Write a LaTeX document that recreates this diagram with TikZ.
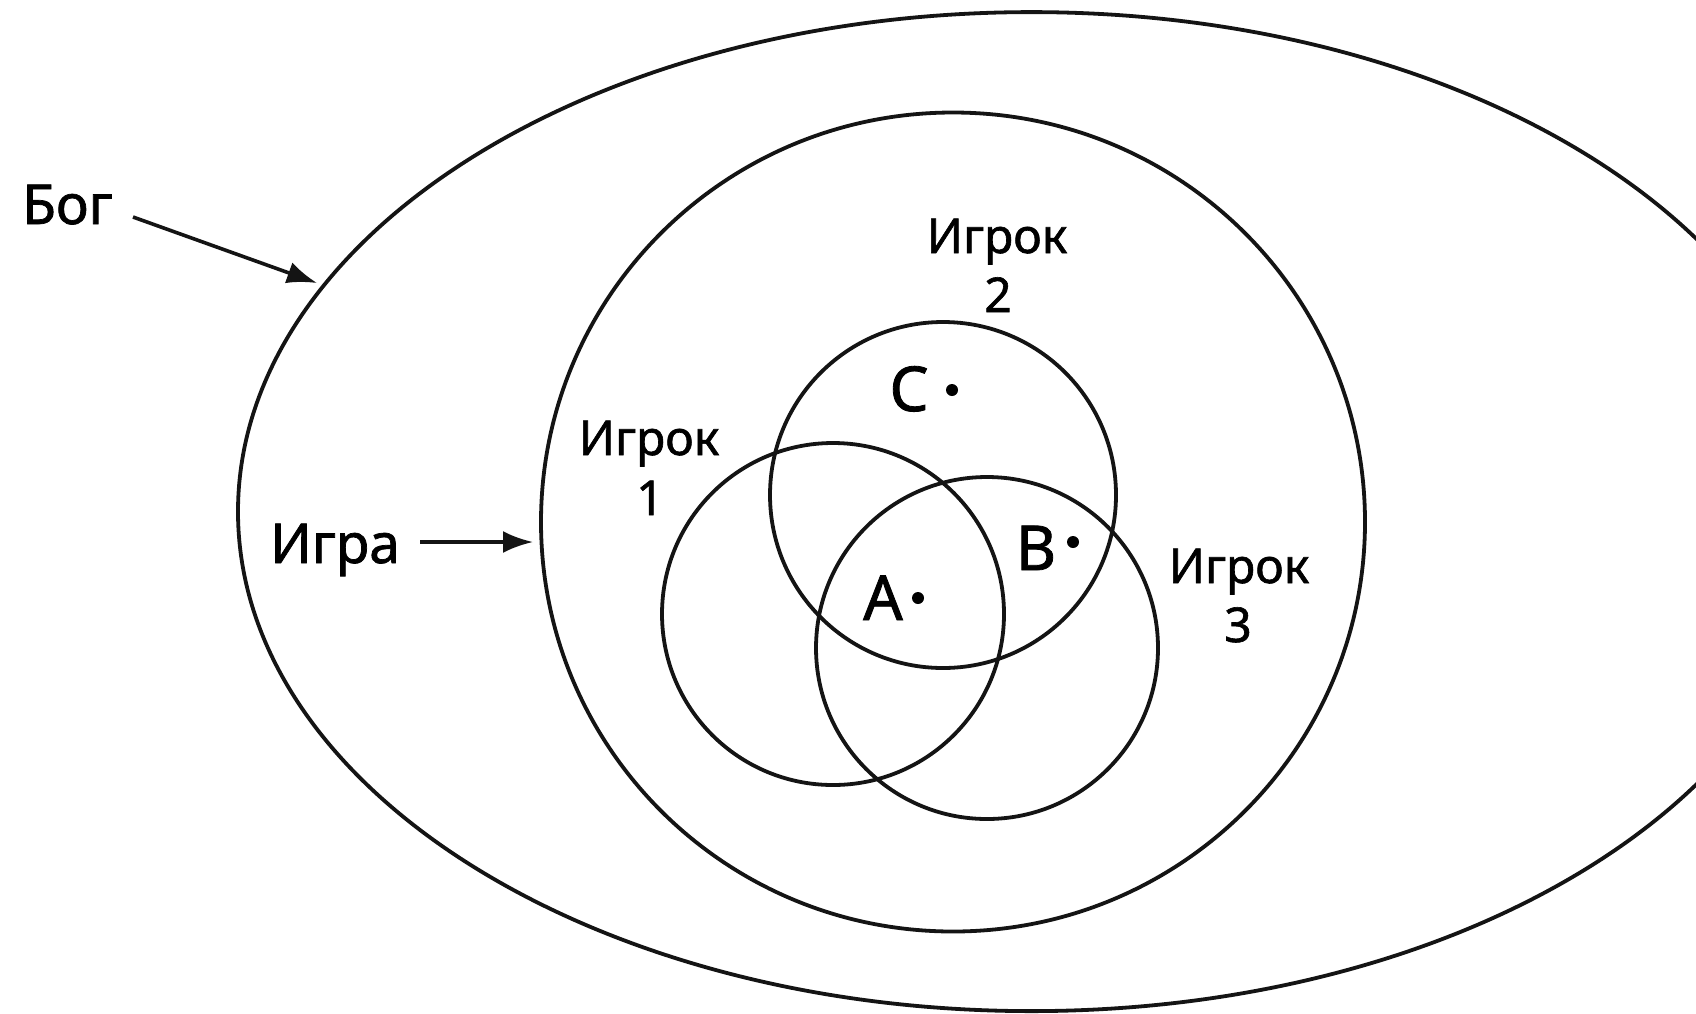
\documentclass[tikz,border=0pt]{standalone}
\usepackage{fontspec}
\setmainfont{Noto Sans}
\newfontfamily\labfont{Noto Sans}[FakeBold=1.3]
\usetikzlibrary{shapes.geometric,arrows.meta}
\begin{document}
\begin{tikzpicture}[x=1pt,y=-1pt,
  ring/.style={draw=black!92, line width=3.8pt, ellipse, inner sep=0pt},
  lab/.style={inner sep=0pt, anchor=base, font=\labfont\fontsize{48}{56}\selectfont},
  big/.style={inner sep=0pt, anchor=base west, font=\labfont\fontsize{55}{62}\selectfont},
  ptlab/.style={inner sep=0pt, anchor=base, font=\labfont\fontsize{62}{70}\selectfont},
  dotmark/.style={circle, fill=black, inner sep=0pt, minimum size=12pt},
  arr/.style={line width=3.6pt, draw=black!92, -{Latex[length=30pt,width=22pt]}}]
\useasboundingbox[fill=white] (0,0) rectangle (1696,1013);
% rings
\node[ring, minimum width=1587pt, minimum height=999pt] (god) at (1031.5,511.6) {};
\node[ring, minimum width=824pt, minimum height=819pt] (game) at (953,522) {};
\node[ring, circle, minimum size=346pt] (p2) at (943,495) {};
\node[ring, circle, minimum size=342pt] (p1) at (833,614) {};
\node[ring, circle, minimum size=342pt] (p3) at (987,648) {};
% outer labels and arrows
\node[big] (bog) at (22,224) {Бог};
\node[big] (igra) at (270,563) {Игра};
\coordinate (bogtail) at (133,217);
\coordinate (bogtip) at (317,283);
\coordinate (igratail) at (420,542);
\coordinate (igratip) at (533,542);
\draw[arr] (bogtail) -- (bogtip);
\draw[arr] (igratail) -- (igratip);
% player labels
\node[lab] (p1name) at (649,455) {Игрок};
\node[lab] (p1num) at (650,515) {1};
\node[lab] (p2name) at (997,253) {Игрок};
\node[lab] (p2num) at (998,312) {2};
\node[lab] (p3name) at (1239,583) {Игрок};
\node[lab] (p3num) at (1238,642) {3};
% points
\node[ptlab] (A) at (883,620) {A};
\node[dotmark] (Adot) at (918,598) {};
\node[ptlab] (B) at (1036,570) {B};
\node[dotmark] (Bdot) at (1073,542) {};
\node[ptlab] (C) at (909,411) {C};
\node[dotmark] (Cdot) at (952,390) {};
\end{tikzpicture}
\end{document}
